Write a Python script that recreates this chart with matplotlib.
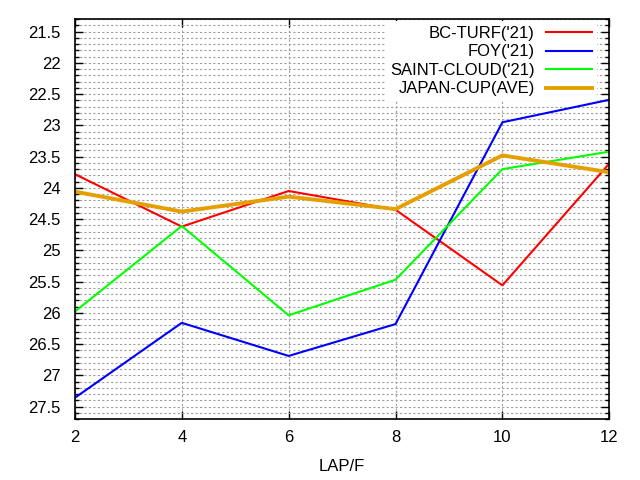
import matplotlib
matplotlib.use("Agg")
import matplotlib.pyplot as plt
from matplotlib.ticker import MultipleLocator

plt.rcParams["font.family"] = ["Liberation Sans", "DejaVu Sans"]

laps = [2, 4, 6, 8, 10, 12]
bc_turf = [23.78, 24.62, 24.05, 24.35, 25.56, 23.61]
foy = [27.36, 26.16, 26.69, 26.18, 22.95, 22.59]
saint_cloud = [25.98, 24.61, 26.04, 25.47, 23.70, 23.42]
japan_cup = [24.06, 24.38, 24.14, 24.34, 23.48, 23.75]

fig = plt.figure(figsize=(6.4, 4.8), dpi=100)
ax = fig.add_axes([0.117, 0.127, 0.835, 0.833])

ax.plot(laps, bc_turf, color="#ff0000", lw=1.5, label="BC-TURF('21)")
ax.plot(laps, foy, color="#0000ff", lw=1.5, label="FOY('21)")
ax.plot(laps, saint_cloud, color="#00ff00", lw=1.5, label="SAINT-CLOUD('21)")
ax.plot(laps, japan_cup, color="#e69f00", lw=2.8, label="JAPAN-CUP(AVE)")

ax.set_xlim(2, 12)
ax.set_ylim(27.7, 21.3)
ax.xaxis.set_major_locator(MultipleLocator(2))
ax.yaxis.set_major_locator(MultipleLocator(0.5))
ax.yaxis.set_minor_locator(MultipleLocator(0.1))
ax.yaxis.set_major_formatter(plt.FuncFormatter(lambda v, p: f"{v:g}"))

grid_kw = dict(color="#a0a0a0", linestyle=(0, (2, 2)), linewidth=0.8)
ax.grid(True, which="major", axis="x", **grid_kw)
ax.grid(True, which="both", axis="y", **grid_kw)
ax.set_axisbelow(True)

ax.tick_params(which="both", direction="in", top=True, right=True,
               labelsize=12, width=1)
ax.tick_params(which="major", length=6)
ax.tick_params(which="minor", length=3)
ax.tick_params(axis="x", which="major", pad=8)
ax.tick_params(axis="y", which="major", pad=10)
for s in ax.spines.values():
    s.set_linewidth(1.2)

ax.set_xlabel("LAP/F", fontsize=12, labelpad=10)

# legend: labels right-aligned, line samples on the right
leg = ax.legend(loc="upper right", bbox_to_anchor=(0.9775, 0.9957),
                markerfirst=False, fontsize=12,
                frameon=True, fancybox=False, framealpha=1,
                handlelength=2.75, labelspacing=0.21, borderaxespad=0,
                borderpad=0.3, handletextpad=0.7)
leg.get_frame().set_edgecolor("none")
leg.get_frame().set_facecolor("white")
leg.set_zorder(1.5)  # data lines stay on top of the key box

fig.savefig("out.png", dpi=100)
